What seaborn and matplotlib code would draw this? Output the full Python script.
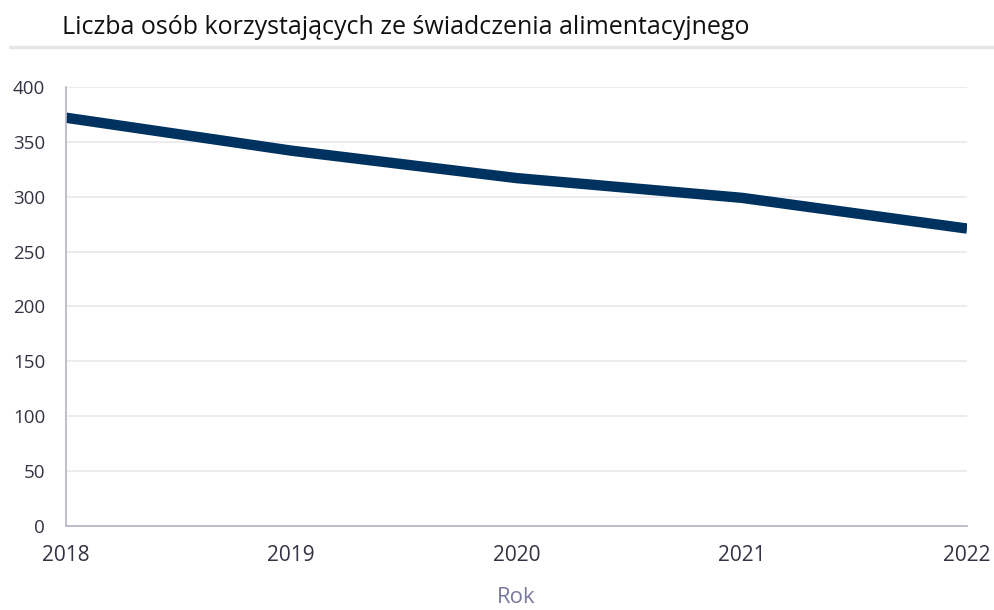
import matplotlib.pyplot as plt
import matplotlib.lines as mlines
import pandas as pd
import seaborn as sns

###############################################################################
# Data.

years = [2018, 2019, 2020, 2021, 2022]
persons = [372, 342, 317, 299, 271]
y_ticks = [0, 50, 100, 150, 200, 250, 300, 350, 400]

df = pd.DataFrame({"Rok": years, "Liczba": persons})

###############################################################################
# Plot settings.

sns.set_style("white")
plt.rcParams['font.family'] = ['Open Sans', 'DejaVu Sans']
text_color = "#333344"
axis_color = "#b4b4c8"
grid_color = "#e8e8ee"

fig = plt.figure(figsize=(9.95, 6.1), dpi=100)
ax = fig.add_axes([0.0663, 0.1377, 0.9719 - 0.0663, 0.8574 - 0.1377])

sns.lineplot(data=df, x="Rok", y="Liczba", ax=ax, color="#00325f",
             linewidth=7.5, solid_capstyle="butt")

ax.set_xlim(years[0], years[-1])
ax.set_ylim(0, 400)
ax.set_xticks(years)
ax.set_yticks(y_ticks)
ax.yaxis.grid(True, color=grid_color, linewidth=1.2)
ax.set_axisbelow(True)
ax.tick_params(axis="both", length=0, colors=text_color)
ax.tick_params(axis="x", labelsize=15, pad=14)
ax.tick_params(axis="y", labelsize=13.5, pad=15)
for side in ["top", "right"]:
    ax.spines[side].set_visible(False)
for side in ["left", "bottom"]:
    ax.spines[side].set_color(axis_color)
    ax.spines[side].set_linewidth(1.2)

ax.set_xlabel("Rok", fontsize=16, color="#7a7a9c", labelpad=15)
ax.set_ylabel("")

fig.text(62 / 995, 1 - 28 / 610, "Liczba osób korzystających ze świadczenia alimentacyjnego",
         fontsize=18, color="#111111", va="center", ha="left")
fig.add_artist(mlines.Line2D([10 / 995, 1.0], [1 - 47 / 610, 1 - 47 / 610],
                             color="#e6e6e6", linewidth=2.5))

fig.savefig("out.png", dpi=100)
